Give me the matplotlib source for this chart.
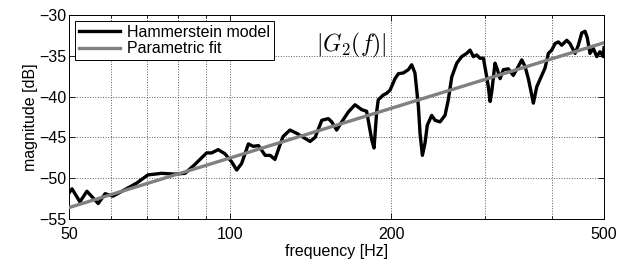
import numpy as np
import matplotlib
matplotlib.use('Agg')
import matplotlib.pyplot as plt
from matplotlib.ticker import FixedLocator, NullFormatter

# Hammerstein model response
freq = [50.0, 50.65, 52.4, 54.0, 56.7, 58.4, 60.4, 63.6, 66.9, 70.2, 74.5, 78.9,
        82.4, 86.0, 90.4, 92.4, 95.0, 97.8, 100.7, 102.9, 105.1, 108.2, 110.5,
        113.0, 116.3, 118.8, 121.3, 124.0, 125.6, 129.4, 133.2, 137.1, 141.1,
        144.2, 148.4, 152.6, 154.9, 158.2, 161.7, 166.3, 171.2, 176.2, 180.0,
        184.0, 185.8, 188.0, 189.2, 193.4, 196.2, 199.1, 203.4, 206.3, 210.8,
        215.4, 218.5, 221.6, 224.9, 226.5, 228.8, 231.4, 233.7, 238.2, 241.6,
        246.8, 252.2, 255.8, 259.6, 265.3, 271.0, 276.9, 280.9, 284.9, 289.1,
        293.2, 297.5, 300.9, 303.9, 306.2, 308.4, 312.8, 316.0, 319.7, 324.2,
        331.2, 338.4, 345.8, 350.9, 355.9, 361.0, 366.3, 368.9, 374.3, 382.5,
        387.9, 393.5, 399.3, 405.0, 410.8, 416.8, 425.9, 431.9, 441.3, 447.7,
        454.3, 460.8, 465.3, 470.7, 477.5, 484.6, 491.4, 498.5, 500.0]
mag = [-51.8, -51.3, -52.9, -51.6, -53.1, -51.9, -52.2, -51.4, -50.6, -49.6,
       -49.4, -49.5, -49.4, -48.3, -46.9, -46.9, -46.5, -47.0, -48.0, -49.0,
       -48.2, -45.8, -46.1, -46.0, -47.2, -47.2, -47.7, -45.9, -44.9, -44.1,
       -44.5, -45.0, -45.5, -45.0, -42.9, -42.7, -43.1, -44.1, -43.1, -41.9,
       -41.0, -41.6, -41.8, -45.3, -46.3, -41.8, -40.4, -39.8, -39.6, -39.2,
       -37.8, -37.2, -37.1, -36.7, -36.1, -37.1, -41.2, -44.5, -47.2, -45.7,
       -43.5, -42.3, -42.9, -43.1, -42.3, -40.4, -37.6, -35.9, -35.1, -34.7,
       -34.3, -35.1, -34.9, -35.3, -35.3, -37.1, -38.8, -40.6, -39.4, -35.9,
       -36.7, -37.8, -36.7, -36.6, -37.4, -36.3, -35.5, -36.3, -37.8, -39.8,
       -40.8, -38.8, -37.4, -36.5, -34.7, -34.3, -33.5, -33.3, -33.7, -33.1,
       -33.5, -34.7, -33.7, -32.2, -32.0, -32.8, -34.7, -34.1, -35.1, -34.5,
       -35.1, -34.0]

# parametric fit (straight line on log-frequency axis)
fit_freq = [50, 500]
fit_mag = [-53.6, -33.4]

plt.rcParams['font.family'] = ['Liberation Sans', 'DejaVu Sans']
plt.rcParams['mathtext.fontset'] = 'cm'

fig = plt.figure(figsize=(6.19, 2.63), dpi=100)
ax = fig.add_axes([0.1115, 0.1673, 0.8643, 0.7757])

ax.semilogx(freq, mag, color='black', lw=2.4, label='Hammerstein model', zorder=3,
            solid_joinstyle='round')
ax.semilogx(fit_freq, fit_mag, color='#808080', lw=2.4, label='Parametric fit', zorder=4)

ax.set_xlim(50, 500)
ax.set_ylim(-55, -30)
ax.xaxis.set_major_locator(FixedLocator([50, 100, 200, 500]))
ax.xaxis.set_minor_locator(FixedLocator([60, 70, 80, 90, 300, 400]))
ax.xaxis.set_minor_formatter(NullFormatter())
ax.set_xticklabels(['50', '100', '200', '500'])
ax.set_yticks([-55, -50, -45, -40, -35, -30])
ax.set_yticklabels(['\u221255', '\u221250', '\u221245', '\u221240', '\u221235', '\u221230'])

ax.tick_params(which='both', direction='in', top=True, right=True, labelsize=11.5,
               width=0.6)
ax.tick_params(axis='x', pad=5.5)
ax.tick_params(axis='y', pad=2)
ax.tick_params(which='major', length=4)
ax.tick_params(which='minor', length=2.5)
ax.grid(True, which='major', color='0.35', linestyle=':', lw=0.7)
ax.grid(True, which='minor', axis='x', color='0.35', linestyle=':', lw=0.7)
for s in ax.spines.values():
    s.set_linewidth(0.7)

ax.set_xlabel('frequency [Hz]', fontsize=11.5, labelpad=2)
ax.set_ylabel('magnitude [dB]', fontsize=11.5, labelpad=1)

ax.text(0.462, 0.853, r'$|G_2(f)|$', transform=ax.transAxes, fontsize=17,
        ha='left', va='center')

leg = ax.legend(loc='upper left', fontsize=11.5, fancybox=False, framealpha=1,
                edgecolor='black', handlelength=2.6, borderpad=0.25,
                labelspacing=0.1, handletextpad=0.4, borderaxespad=0.35)
leg.get_frame().set_linewidth(0.7)

plt.savefig('out.png', dpi=100)
